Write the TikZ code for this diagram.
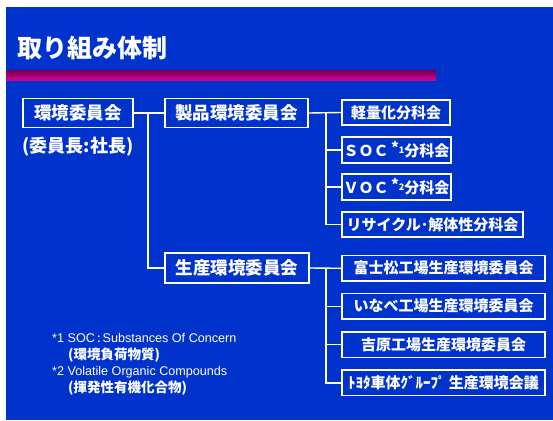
\documentclass[tikz,border=0pt]{standalone}
\usepackage{fontspec}
\setmainfont{Liberation Sans}
\newfontfamily\cjk{Noto Sans CJK JP}
\definecolor{bgblue}{RGB}{0,51,204}
\definecolor{bartop}{RGB}{110,0,80}
\definecolor{barbot}{RGB}{215,0,140}
\begin{document}
\begin{tikzpicture}[x=1pt,y=-1pt,
  box/.style={draw=white,line width=1.6pt,text=white,inner sep=0pt,
    font=\cjk\bfseries\fontsize{17.5}{18}\selectfont},
  subbox/.style={draw=white,line width=1.6pt,text=white,inner sep=0pt,
    minimum height=25.5pt,font=\cjk\bfseries\fontsize{15}{16}\selectfont},
  conn/.style={draw=white,line width=1.4pt},
  note/.style={text=white,anchor=west,inner sep=0pt,font=\fontsize{12.6}{13}\selectfont},
  notej/.style={text=white,anchor=west,inner sep=0pt,font=\cjk\bfseries\fontsize{13.5}{14}\selectfont}]
\useasboundingbox (0,0) rectangle (553,420);
\fill[white] (0,0) rectangle (553,420);
\fill[bgblue] (6,7) rectangle (553,420);
\shade[top color=bartop,bottom color=barbot] (6,70) rectangle (436,80);
\node[text=white,anchor=west,inner sep=0pt,font=\cjk\bfseries\fontsize{25}{26}\selectfont] (title) at (17,48) {取り組み体制};
% main boxes
\node[box,minimum width=110pt,minimum height=29pt] (hq) at (78,113) {環境委員会};
\node[text=white,inner sep=0pt,font=\cjk\bfseries\fontsize{18}{19}\selectfont] (chair) at (78,147) {(委員長:社長)};
\node[box,minimum width=143pt,minimum height=29pt] (seihin) at (236.5,113) {製品環境委員会};
\node[box,minimum width=144pt,minimum height=30pt] (seisan) at (237,268) {生産環境委員会};
% product subcommittees
\node[subbox,minimum width=108pt] (kei) at (396,112.5) {軽量化分科会};
\node[subbox,minimum width=109pt] (soc) at (396.5,150) {ＳＯＣ\,\raisebox{0.22em}{*\fontsize{9}{9}\selectfont 1}分科会};
\node[subbox,minimum width=109pt] (voc) at (396.5,187) {ＶＯＣ\,\raisebox{0.22em}{*\fontsize{9}{9}\selectfont 2}分科会};
\node[subbox,minimum width=181pt] (rec) at (432.5,224.5) {リサイクル･解体性分科会};
% plant committees
\node[subbox,minimum width=203pt] (fuji) at (443.5,268.3) {富士松工場生産環境委員会};
\node[subbox,minimum width=203pt] (inabe) at (443.5,306.3) {いなべ工場生産環境委員会};
\node[subbox,minimum width=203pt] (yoshi) at (443.5,344.7) {吉原工場生産環境委員会};
\node[subbox,minimum width=203pt] (group) at (443.5,382.8) {ﾄﾖﾀ車体ｸﾞﾙｰﾌﾟ 生産環境会議};
% connectors
\coordinate (j1) at (148,113);
\coordinate (j2) at (326,113);
\coordinate (j3) at (326,268);
\draw[conn] (hq.east) -- (seihin.west);
\draw[conn] (j1) |- (seisan.west);
\draw[conn] (seihin.east) -- (kei.west);
\draw[conn] (j2) |- (soc.west);
\draw[conn] (j2) |- (voc.west);
\draw[conn] (j2) |- (rec.west);
\draw[conn] (seisan.east) -- (fuji.west);
\draw[conn] (j3) |- (inabe.west);
\draw[conn] (j3) |- (yoshi.west);
\draw[conn] (j3) |- (group.west);
% footnotes
\node[note] (n1) at (52,338) {*1 SOC\,{\cjk :}\,Substances Of Concern};
\node[notej] (n1j) at (68,355) {(環境負荷物質)};
\node[note] (n2) at (52,372) {*2 Volatile Organic Compounds};
\node[notej] (n2j) at (68,388) {(揮発性有機化合物)};
\end{tikzpicture}
\end{document}
